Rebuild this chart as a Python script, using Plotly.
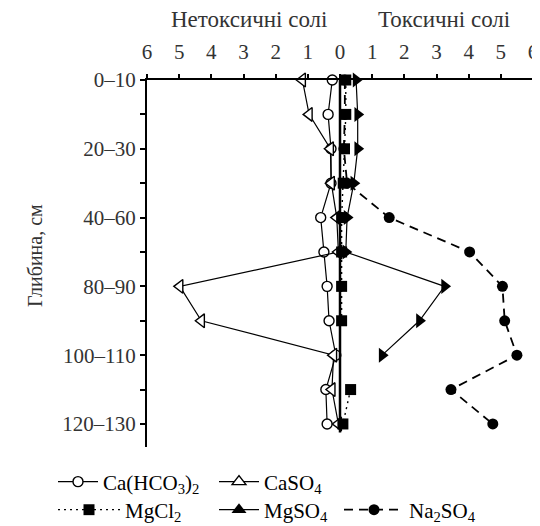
import plotly.graph_objects as go

# depth positions (0..10) with labels on every other one
depth_pos = list(range(11))
depth_labels = ["0–10", "", "20–30", "", "40–60", "", "80–90", "", "100–110", "", "120–130"]

x_ticks = [-6, -5, -4, -3, -2, -1, 0, 1, 2, 3, 4, 5, 6]
x_tick_labels = ["6", "5", "4", "3", "2", "1", "0", "1", "2", "3", "4", "5", "6"]

# non-toxic salts (plotted to the left, negative)
ca_hco3 = [-0.24, -0.37, -0.28, -0.28, -0.60, -0.50, -0.40, -0.34, -0.13, -0.44, -0.40]
caso4 = [-1.17, -0.96, -0.30, -0.27, -0.10, -0.05, -4.98, -4.31, -0.20, -0.25, -0.05]
# toxic salts (plotted to the right)
mgcl2 = [0.18, 0.18, 0.14, 0.10, 0.05, 0.05, 0.05, 0.05, None, 0.33, 0.09]
mgso4 = [0.50, 0.55, 0.55, 0.43, 0.22, 0.18, 3.25, 2.47, 1.31, None, None]
na2so4 = [0.15, 0.15, 0.12, 0.22, 1.53, 4.03, 5.05, 5.12, 5.50, 3.45, 4.75]

FONT = "Liberation Serif"
TXT = "#333"
fig = go.Figure()

series = [
    # name, values, line, plot marker, legend marker symbol, legend id
    ("Ca(HCO<sub>3</sub>)<sub>2</sub>", ca_hco3, dict(color="black", width=1.2),
     dict(symbol="circle", size=10, color="white", line=dict(color="black", width=1.4)), "circle", "legend"),
    ("CaSO<sub>4</sub>", caso4, dict(color="black", width=1.2),
     dict(symbol="triangle-left", size=12, color="white", line=dict(color="black", width=1.4)), "triangle-up", "legend2"),
    ("MgCl<sub>2</sub>", mgcl2, dict(color="black", width=1.4, dash="2px,4px"),
     dict(symbol="square", size=11, color="black"), "square", "legend3"),
    ("MgSO<sub>4</sub>", mgso4, dict(color="black", width=1.2),
     dict(symbol="triangle-right", size=13, color="black"), "triangle-up", "legend4"),
    ("Na<sub>2</sub>SO<sub>4</sub>", na2so4, dict(color="black", width=1.8, dash="9px,6px"),
     dict(symbol="circle", size=11, color="black"), "circle", "legend5"),
]

for name, vals, line, marker, leg_symbol, leg in series:
    fig.add_trace(go.Scatter(
        x=vals, y=depth_pos, mode="lines+markers", name=name, line=line, marker=marker,
        cliponaxis=False, connectgaps=False, showlegend=False))
    leg_marker = dict(marker)
    leg_marker["symbol"] = leg_symbol
    fig.add_trace(go.Scatter(
        x=[None], y=[None], mode="lines+markers", name=name, line=line, marker=leg_marker,
        showlegend=True, legend=leg))

# zero separator line
fig.add_shape(type="line", x0=0, x1=0, y0=0, y1=10.25, xref="x", yref="y",
              line=dict(color="black", width=2.5), layer="above")

# page body has an 8px margin: figure is sized/positioned to compensate
OFF = 8
W, H = 540 - OFF, 526 - OFF
L, R, T, B = 147 - OFF, 7, 80 - OFF, 79
pw, ph = W - L - R, H - T - B

def px_x(px):
    return (px - OFF - L) / pw

def px_y(py):
    return (H - B - (py - OFF)) / ph

fig.update_layout(
    width=W, height=H,
    margin=dict(l=L, r=R, t=T, b=B, autoexpand=False),
    paper_bgcolor="white", plot_bgcolor="white",
    font=dict(family=FONT, size=21, color=TXT),
    xaxis=dict(range=[-6, 6], side="top", tickvals=x_ticks, ticktext=x_tick_labels,
               showgrid=False, zeroline=False, showline=True, linecolor="black", linewidth=1.5,
               ticks="outside", ticklen=4, tickwidth=1.5, tickcolor="black",
               tickfont=dict(family=FONT, size=21, color=TXT), ticklabelstandoff=7),
    yaxis=dict(range=[10.67, 0], tickvals=depth_pos, ticktext=depth_labels,
               showgrid=False, zeroline=False, showline=True, linecolor="black", linewidth=2,
               ticks="outside", ticklen=5, tickwidth=1.5, tickcolor="black",
               tickfont=dict(family=FONT, size=21, color=TXT)),
    showlegend=True,
)

legend_common = dict(orientation="h", xanchor="left", yanchor="middle",
                     font=dict(family=FONT, size=21, color="black"),
                     bgcolor="rgba(0,0,0,0)", borderwidth=0)
fig.update_layout(
    legend=dict(x=px_x(53), y=px_y(482), itemwidth=40, **legend_common),
    legend2=dict(x=px_x(214), y=px_y(482), itemwidth=40, **legend_common),
    legend3=dict(x=px_x(53), y=px_y(510), itemwidth=62, **legend_common),
    legend4=dict(x=px_x(214), y=px_y(510), itemwidth=40, **legend_common),
    legend5=dict(x=px_x(339), y=px_y(510), itemwidth=60, **legend_common),
)

ann = dict(xref="paper", yref="paper", showarrow=False, xanchor="center", yanchor="middle")
fig.add_annotation(text="Нетоксичні солі", x=px_x(249), y=px_y(19),
                   font=dict(family=FONT, size=23, color=TXT), **ann)
fig.add_annotation(text="Токсичні солі", x=px_x(444), y=px_y(19),
                   font=dict(family=FONT, size=23, color=TXT), **ann)
fig.add_annotation(text="Глибина, см", x=px_x(35), y=px_y(256), textangle=-90,
                   font=dict(family=FONT, size=20, color=TXT), **ann)

fig.write_html("out.html")
